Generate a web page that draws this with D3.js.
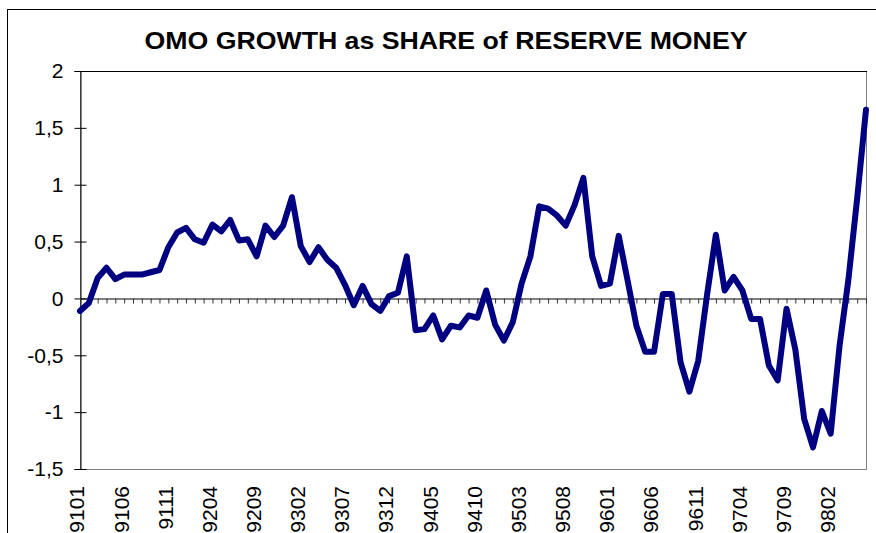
<!DOCTYPE html>
<html>
<head>
<meta charset="utf-8">
<script src="https://cdn.jsdelivr.net/npm/d3@7"></script>
<style>
  body { margin: 0; background: #fff; }
  text { font-family: "Liberation Sans", Arial, sans-serif; }
</style>
</head>
<body>
<svg width="876" height="533"></svg>
<script>
// monthly categories, 1991-01 .. 1998-06
const months = [
  "9101","9102","9103","9104","9105","9106","9107","9108","9109","9110","9111","9112",
  "9201","9202","9203","9204","9205","9206","9207","9208","9209","9210","9211","9212",
  "9301","9302","9303","9304","9305","9306","9307","9308","9309","9310","9311","9312",
  "9401","9402","9403","9404","9405","9406","9407","9408","9409","9410","9411","9412",
  "9501","9502","9503","9504","9505","9506","9507","9508","9509","9510","9511","9512",
  "9601","9602","9603","9604","9605","9606","9607","9608","9609","9610","9611","9612",
  "9701","9702","9703","9704","9705","9706","9707","9708","9709","9710","9711","9712",
  "9801","9802","9803","9804","9805","9806"
];

// OMO growth as share of reserve money
const omoShare = [
  -0.11, -0.04, 0.18, 0.27, 0.17, 0.21, 0.21, 0.21, 0.23, 0.25, 0.45, 0.58,
  0.62, 0.52, 0.49, 0.65, 0.59, 0.69, 0.51, 0.52, 0.37, 0.64, 0.54, 0.64,
  0.89, 0.46, 0.32, 0.45, 0.34, 0.27, 0.12, -0.06, 0.11, -0.05, -0.11, 0.02,
  0.05, 0.37, -0.28, -0.27, -0.15, -0.36, -0.24, -0.255, -0.15, -0.17, 0.07, -0.23,
  -0.37, -0.21, 0.13, 0.37, 0.81, 0.79, 0.73, 0.64, 0.82, 1.06, 0.37, 0.11,
  0.13, 0.55, 0.16, -0.24, -0.47, -0.47, 0.04, 0.04, -0.56, -0.82, -0.55, 0.03,
  0.56, 0.07, 0.19, 0.07, -0.18, -0.18, -0.59, -0.72, -0.09, -0.45, -1.06, -1.31,
  -0.99, -1.19, -0.42, 0.16, 0.88, 1.66
];

const xLabels = ["9101","9106","9111","9204","9209","9302","9307","9312","9405",
  "9410","9503","9508","9601","9606","9611","9704","9709","9802"];
const yTicks = [-1.5, -1, -0.5, 0, 0.5, 1, 1.5, 2];

const title = "OMO GROWTH as SHARE of RESERVE MONEY";

var svg = d3.select("svg");
const plotLeft = 80, plotRight = 866, plotTop = 71, plotBottom = 469;

// chart area border (runs off the picture at right and bottom)
svg.append("rect")
  .attr("x", 7.5).attr("y", 9.5)
  .attr("width", 900).attr("height", 600)
  .attr("fill", "#fff")
  .attr("stroke", "#000");

const x = d3.scalePoint().domain(months).range([plotLeft, plotRight]);
const y = d3.scaleLinear().domain([-1.5, 2]).range([plotBottom, plotTop]);

// plot area frame
svg.append("rect")
  .attr("x", plotLeft + 0.5).attr("y", plotTop + 0.5)
  .attr("width", plotRight - plotLeft).attr("height", plotBottom - plotTop)
  .attr("fill", "none")
  .attr("stroke", "#808080");
svg.append("line")
  .attr("x1", plotLeft).attr("x2", plotRight + 1)
  .attr("y1", plotTop + 0.5).attr("y2", plotTop + 0.5)
  .attr("stroke", "#000");

// title
svg.append("text")
  .attr("x", 446).attr("y", 49)
  .attr("text-anchor", "middle")
  .attr("font-size", 24)
  .attr("font-weight", "bold")
  .attr("textLength", 603)
  .attr("lengthAdjust", "spacingAndGlyphs")
  .text(title);

// y axis
const yAxis = svg.append("g")
  .attr("transform", `translate(${plotLeft + 0.5},0)`)
  .call(d3.axisLeft(y)
    .tickValues(yTicks)
    .tickSize(6)
    .tickPadding(11)
    .tickFormat(d => String(d).replace(".", ",")));
yAxis.select(".domain").attr("stroke", "#000");
yAxis.selectAll(".tick line").attr("stroke", "#000");
yAxis.selectAll(".tick").append("line")
  .attr("x1", 0).attr("x2", 6)
  .attr("stroke", "#000");
yAxis.selectAll(".tick text")
  .attr("font-size", 21)
  .attr("fill", "#000")
  .attr("font-family", "Liberation Sans, Arial, sans-serif");

// category axis crossing at zero
const xAxis = svg.append("g")
  .attr("transform", `translate(0,${Math.round(y(0)) + 0.5})`)
  .call(d3.axisBottom(x).tickSize(5).tickSizeOuter(0).tickFormat(""));
xAxis.select(".domain").attr("stroke", "#000");
xAxis.selectAll(".tick line").attr("stroke", "#333");

// category labels below the plot
svg.append("g")
  .selectAll("text")
  .data(xLabels)
  .join("text")
  .attr("transform", d => `translate(${x(d) - 3},${plotBottom + 17}) rotate(-90)`)
  .attr("text-anchor", "end")
  .attr("dy", "0.35em")
  .attr("font-size", 21)
  .attr("fill", "#000")
  .text(d => d);

// the series
const line = d3.line()
  .x((d, i) => x(months[i]))
  .y(d => y(d));

svg.append("path")
  .datum(omoShare)
  .attr("fill", "none")
  .attr("stroke", "#000080")
  .attr("stroke-width", 6)
  .attr("stroke-linejoin", "round")
  .attr("stroke-linecap", "round")
  .attr("d", line);
</script>
</body>
</html>
